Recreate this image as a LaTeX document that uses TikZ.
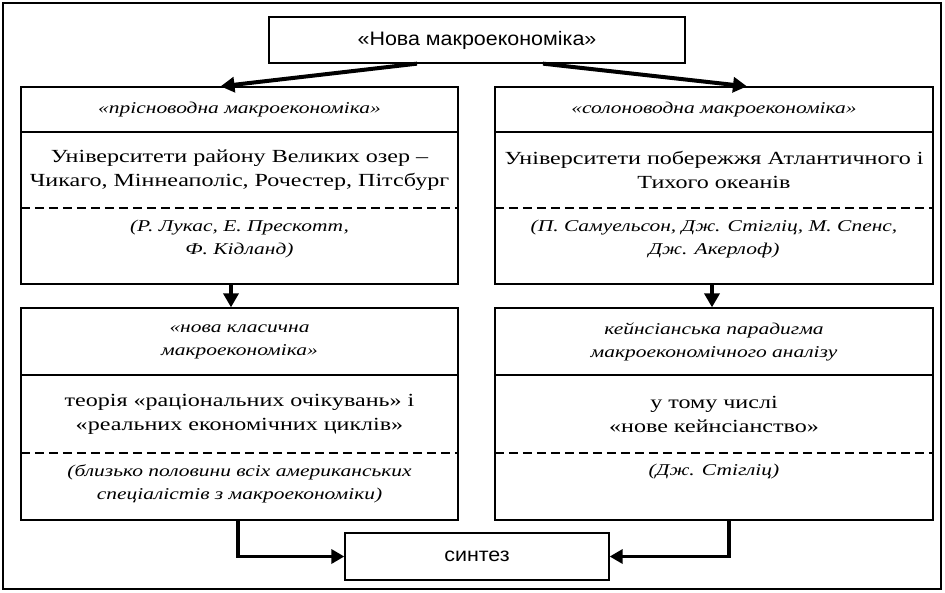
\documentclass[tikz,border=0pt]{standalone}
\usepackage{fontspec}
\setmainfont[FakeStretch=1.3]{Liberation Serif}
\newfontfamily\sansf[FakeStretch=1.1]{Liberation Sans}
\usetikzlibrary{arrows.meta}
\tikzset{
  frame/.style={draw, line width=1.3pt, inner sep=0pt, align=center},
  txt/.style={inner sep=0pt, align=center},
  bodytxt/.style={txt, font=\fontsize{18.5}{24}\selectfont},
  nametxt/.style={txt, font=\fontsize{16.5}{23}\selectfont\itshape},
  titletxt/.style={txt, font=\fontsize{16.5}{23}\selectfont\itshape},
  sanstxt/.style={font=\sansf\fontsize{19.5}{23}\selectfont},
  dashline/.style={line width=2.4pt, dash pattern=on 9pt off 5pt},
  bigarrow/.style={line width=4pt, -{Triangle[width=15pt,length=14pt]}},
  smallarrow/.style={line width=4pt, -{Triangle[width=15pt,length=14pt]}},
  joinarrow/.style={line width=3.5pt, -{Triangle[width=14pt,length=13pt]}},
}
\begin{document}
\begin{tikzpicture}[x=1pt,y=-1pt]
\useasboundingbox (0,0) rectangle (945,592);
\node[draw, line width=1.3pt, minimum width=938pt, minimum height=586pt, inner sep=0pt] (frm) at (472,296) {};

% top box
\node[frame, sanstxt, minimum width=416pt, minimum height=46pt] (top) at (477,40) {«Нова макроекономіка»};

% left upper column
\node[frame, minimum width=437pt, minimum height=197pt] (L1) at (239.5,185.5) {};
\node[frame, titletxt, minimum width=437pt, minimum height=45pt] (L1t) at (239.5,109.5) {«прісноводна макроекономіка»};
\node[bodytxt, minimum width=437pt, minimum height=76pt] (L1b) at (239.5,170) {Університети району Великих озер –\\Чикаго, Міннеаполіс, Рочестер, Пітсбург};
\node[nametxt] (L1n) at (239.5,239) {(Р. Лукас, Е. Прескотт,\\Ф. Кідланд)};
\draw[dashline] (L1b.south west) -- (L1b.south east);

% right upper column
\node[frame, minimum width=438pt, minimum height=197pt] (R1) at (714,185.5) {};
\node[frame, titletxt, minimum width=438pt, minimum height=45pt] (R1t) at (714,109.5) {«солоноводна макроекономіка»};
\node[bodytxt, minimum width=438pt, minimum height=76pt] (R1b) at (714,170) {Університети побережжя Атлантичного і\\Тихого океанів};
\node[nametxt] (R1n) at (714,239) {(П. Самуельсон, Дж. Стігліц, М. Спенс,\\Дж. Акерлоф)};
\draw[dashline] (R1b.south west) -- (R1b.south east);

% left lower column
\node[frame, minimum width=437pt, minimum height=212pt] (L2) at (239.5,414) {};
\node[frame, titletxt, minimum width=437pt, minimum height=67pt] (L2t) at (239.5,341.5) {«нова класична\\макроекономіка»};
\node[bodytxt, minimum width=437pt, minimum height=78pt] (L2b) at (239.5,414) {теорія «раціональних очікувань» і\\«реальних економічних циклів»};
\node[nametxt] (L2n) at (239.5,484) {(близько половини всіх американських\\спеціалістів з макроекономіки)};
\draw[dashline] (L2b.south west) -- (L2b.south east);

% right lower column
\node[frame, minimum width=438pt, minimum height=212pt] (R2) at (714,414) {};
\node[frame, titletxt, minimum width=438pt, minimum height=67pt] (R2t) at (714,341.5) {кейнсіанська парадигма\\макроекономічного аналізу};
\node[bodytxt, minimum width=438pt, minimum height=78pt] (R2b) at (714,414) {у тому числі\\«нове кейнсіанство»};
\node[nametxt] (R2n) at (714,472) {(Дж. Стігліц)};
\draw[dashline] (R2b.south west) -- (R2b.south east);

% synthesis
\node[frame, sanstxt, minimum width=264pt, minimum height=47pt] (S) at (477,556.5) {синтез};

% connectors
\draw[bigarrow] ([xshift=-60pt]top.south) -- ([xshift=-19pt]L1.north);
\draw[bigarrow] ([xshift=66pt]top.south) -- ([xshift=33pt]R1.north);
\draw[smallarrow] ([xshift=-8.5pt]L1.south) -- ([xshift=-8.5pt]L2.north);
\draw[smallarrow] ([xshift=-2pt]R1.south) -- ([xshift=-2pt]R2.north);
\draw[joinarrow] ([xshift=-1.5pt]L2.south) |- (S.west);
\draw[joinarrow] ([xshift=15pt]R2.south) |- (S.east);
\end{tikzpicture}
\end{document}
